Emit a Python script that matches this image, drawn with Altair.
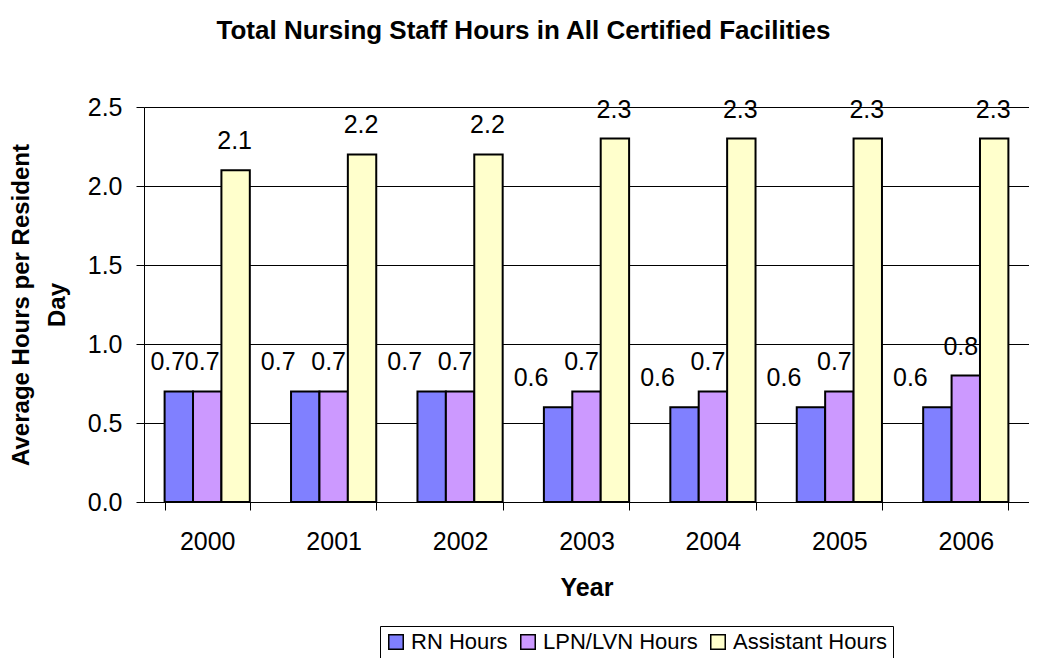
import altair as alt
import pandas as pd

years = ["2000", "2001", "2002", "2003", "2004", "2005", "2006"]
series = ["RN Hours", "LPN/LVN Hours", "Assistant Hours"]
rn = [0.7, 0.7, 0.7, 0.6, 0.6, 0.6, 0.6]
lpn = [0.7, 0.7, 0.7, 0.7, 0.7, 0.7, 0.8]
assistant = [2.1, 2.2, 2.2, 2.3, 2.3, 2.3, 2.3]
colors = ["#8080FF", "#CC99FF", "#FFFFCC"]

rows = []
for i, y in enumerate(years):
    rows.append({"Year": y, "Series": series[0], "Value": rn[i]})
    rows.append({"Year": y, "Series": series[1], "Value": lpn[i]})
    rows.append({"Year": y, "Series": series[2], "Value": assistant[i]})
df = pd.DataFrame(rows)

FONT = "Liberation Sans"

x_enc = alt.X("Year:N", sort=years,
              scale=alt.Scale(paddingInner=0.326, paddingOuter=0.163),
              axis=alt.Axis(title="Year", labelAngle=0, tickBand="extent",
                            tickSize=8, labelPadding=19, titlePadding=21,
                            domainColor="black", tickColor="black",
                            labelFontSize=25, titleFontSize=25,
                            labelColor="black", titleColor="black",
                            labelFont=FONT, titleFont=FONT, titleFontWeight="bold"))
xo_enc = alt.XOffset("Series:N", sort=series, scale=alt.Scale(domain=series))
y_enc = alt.Y("Value:Q",
              scale=alt.Scale(domain=[0, 2.5], nice=False),
              axis=alt.Axis(title=["Average Hours per Resident", "Day"],
                            values=[0, 0.5, 1.0, 1.5, 2.0, 2.5], format=".1f",
                            tickSize=8, labelPadding=14, grid=True,
                            gridColor="black", gridOpacity=1, gridWidth=1,
                            domainColor="black", tickColor="black",
                            labelFontSize=25, titleFontSize=24,
                            labelColor="black", titleColor="black",
                            labelFont=FONT, titleFont=FONT, titleFontWeight="bold",
                            titleX=-135, titleBaseline="top", titleLineHeight=36))
color_enc = alt.Color("Series:N", sort=series,
                      scale=alt.Scale(domain=series, range=colors),
                      legend=alt.Legend(title=None, orient="none", legendX=236, legendY=519,
                                        direction="horizontal", strokeColor="black",
                                        padding=5, symbolType="square", symbolSize=210,
                                        symbolStrokeColor="black", symbolStrokeWidth=1.5,
                                        labelFontSize=22, labelFont=FONT, labelColor="black",
                                        labelLimit=400,
                                        labelOffset=4, columnPadding=9, symbolOpacity=1))

base = alt.Chart(df).encode(x=x_enc, xOffset=xo_enc, y=y_enc)

bars_a = base.transform_filter("datum.Series != 'Assistant Hours'").mark_bar(
    stroke="black", strokeWidth=2, opacity=1).encode(color=color_enc)
bars_b = base.transform_filter("datum.Series == 'Assistant Hours'").mark_bar(
    stroke="black", strokeWidth=2, opacity=1).encode(color=color_enc)

def labels(filt, dx):
    return base.transform_filter(filt).mark_text(
        font=FONT, fontSize=25, color="black", baseline="middle", dy=-29, dx=dx
    ).encode(text=alt.Text("Value:Q", format=".1f"))

rn_first = labels("datum.Series == 'RN Hours' && datum.Year == '2000'", -11)
rn_rest = labels("datum.Series == 'RN Hours' && datum.Year != '2000'", -27)
lpn_lab = labels("datum.Series == 'LPN/LVN Hours'", -5)
as_lab = labels("datum.Series == 'Assistant Hours'", -1)

chart = alt.layer(bars_a, rn_first, rn_rest, lpn_lab, bars_b, as_lab).properties(
    width=885, height=395,
    title=alt.TitleParams("Total Nursing Staff Hours in All Certified Facilities",
                          font=FONT, fontSize=26, fontWeight="bold", color="black",
                          anchor="middle", offset=51, dx=-63),
    autosize=alt.AutoSizeParams(type="none"),
    padding={"left": 136, "top": 99, "right": 0, "bottom": 156},
).configure_view(stroke=None).configure(background="white")

chart.save("out.html", embed_options={"renderer": "svg", "actions": False})
